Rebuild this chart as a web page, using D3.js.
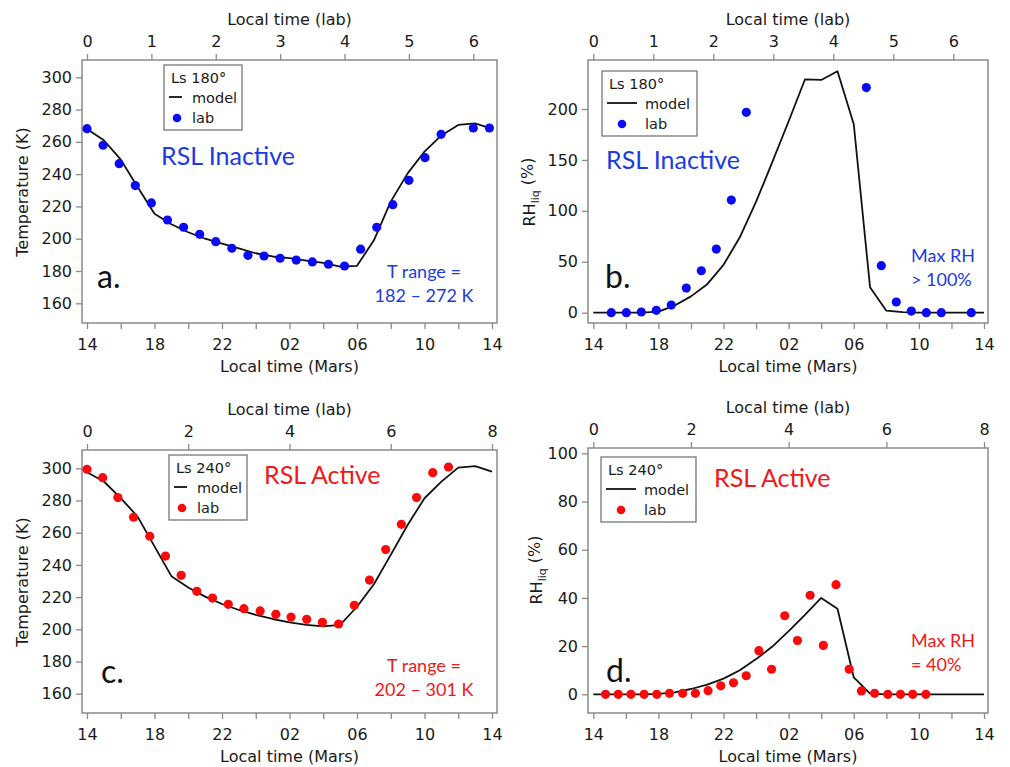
<!DOCTYPE html>
<html>
<head>
<meta charset="utf-8">
<script src="https://cdn.jsdelivr.net/npm/d3@7"></script>
<style>
  body { margin: 0; background: #fff; }
  svg { display: block; }
</style>
</head>
<body>
<div id="chart"></div>
<script>
// Mars local time, hours after 14:00
var marsHours = [0, 1, 2, 3, 4, 5, 6, 7, 8, 9, 10, 11, 12, 13, 14, 15, 16, 17, 18, 19, 20, 21, 22, 23, 24];

// a. Ls 180 temperature (K)
var modelTempA = [268, 261, 249, 232, 215.5, 209, 204, 200, 197, 194, 191, 189, 188, 186.5, 185, 182.7, 183.2, 199, 223, 240.5, 254, 264, 270.5, 271.5, 268];
var labTimeA = [0, 0.25, 0.5, 0.75, 1, 1.25, 1.5, 1.75, 2, 2.25, 2.5, 2.75, 3, 3.25, 3.5, 3.75, 4, 4.25, 4.5, 4.75, 5, 5.25, 5.5, 6, 6.25];
var labTempA = [268.2, 257.9, 246.5, 232.9, 222.2, 211.6, 207.1, 202.7, 198.2, 194.1, 189.7, 189.3, 187.9, 186.8, 185.6, 184.2, 183.1, 193.5, 207.1, 221.1, 236.2, 250.2, 264.7, 268.6, 268.6];

// b. Ls 180 RH liq (%)
var modelRhB = [0, 0, 0, 0, 1, 7, 16, 28, 47, 74, 109, 148, 188, 229, 228.5, 237, 185, 25, 2, 0.5, 0, 0, 0, 0, 0];
var labTimeB = [0.3, 0.55, 0.8, 1.05, 1.3, 1.55, 1.8, 2.05, 2.3, 2.55, 4.55, 4.8, 5.05, 5.3, 5.55, 5.8, 6.3];
var labRhB = [0, 0, 0.7, 2.3, 7.5, 24.2, 41.2, 62.5, 110.6, 196.7, 221, 46.2, 10.5, 1.6, 0, 0, 0];

// c. Ls 240 temperature (K)
var modelTempC = [297.5, 291.8, 281.5, 270, 251.5, 233, 226, 220.3, 215.7, 212, 208.9, 206.4, 204.3, 202.7, 201.8, 202.7, 214, 228, 246.2, 264.8, 281.4, 291.7, 300.4, 301.4, 297.9];
var labTimeC = [0, 0.31, 0.61, 0.92, 1.24, 1.55, 1.86, 2.17, 2.48, 2.79, 3.1, 3.42, 3.73, 4.03, 4.34, 4.65, 4.97, 5.28, 5.58, 5.9, 6.21, 6.51, 6.83, 7.14];
var labTempC = [299.4, 294.2, 281.8, 269.6, 257.8, 245.5, 233.5, 223.6, 219.4, 215.5, 212.8, 211.4, 209.3, 207.6, 206.2, 204.3, 203.3, 214.9, 230.6, 249.5, 265.2, 281.8, 297.3, 300.8];

// d. Ls 240 RH liq (%)
var modelRhD = [0, 0, 0, 0, 0.2, 0.8, 2.2, 4, 6.5, 10, 14.6, 19.8, 26.2, 33, 40, 35.5, 7, 0.3, 0, 0, 0, 0, 0, 0, 0];
var labTimeD = [0.25, 0.51, 0.77, 1.04, 1.3, 1.56, 1.83, 2.09, 2.35, 2.61, 2.87, 3.13, 3.39, 3.65, 3.92, 4.18, 4.44, 4.71, 4.97, 5.24, 5.49, 5.76, 6.03, 6.29, 6.54, 6.81];
var labRhD = [0, 0, 0, 0, 0, 0.4, 0.4, 0.4, 1.5, 3.5, 4.8, 7.7, 18.1, 10.4, 32.6, 22.3, 41.1, 20.3, 45.5, 10.4, 1.4, 0.4, 0, 0, 0, 0];

// tick labels
var marsTicks = [0, 2, 4, 6, 8, 10, 12, 14, 16, 18, 20, 22, 24];
var labTicks180 = [0, 1, 2, 3, 4, 5, 6];
var labTicks240 = [0, 2, 4, 6, 8];
var tempTicks = [160, 180, 200, 220, 240, 260, 280, 300];
var rhTicksB = [0, 50, 100, 150, 200];
var rhTicksD = [0, 20, 40, 60, 80, 100];

var BLUE_PT = "#0a0af5", BLUE_TXT = "#1c3ce0";
var RED_PT = "#fa0a0a", RED_TXT = "#f01818";
var AXIS = "#8a8a8a", INK = "#1a1a1a";
var TICK_FONT = "'DejaVu Sans', sans-serif";
var NOTE_FONT = "Lato, 'Open Sans', sans-serif";

var svg = d3.select("#chart")
  .append("svg")
  .attr("width", 1010)
  .attr("height", 767);

function pad2(h) {
  var v = (14 + h) % 24;
  return v < 10 ? "0" + v : "" + v;
}

function styleAxis(g) {
  g.select(".domain").remove();
  g.selectAll(".tick line").attr("stroke", AXIS).attr("stroke-width", 1.3);
  g.selectAll(".tick text")
    .attr("fill", INK)
    .style("font-family", TICK_FONT)
    .style("font-size", "16px");
}

function drawPanel(p) {
  var g = svg.append("g");

  var x = d3.scaleLinear().domain([0, 24]).range(p.marsRange);
  var xLab = d3.scaleLinear().domain(p.labDomain).range(p.labRange);
  var y = d3.scaleLinear().domain(p.yDomain).range(p.yRange);

  // frame
  g.append("rect")
    .attr("x", p.frame[0])
    .attr("y", p.frame[1])
    .attr("width", p.frame[2] - p.frame[0])
    .attr("height", p.frame[3] - p.frame[1])
    .attr("fill", "none")
    .attr("stroke", AXIS)
    .attr("stroke-width", 1.5);

  // bottom axis (Mars time)
  g.append("g")
    .attr("transform", "translate(0," + p.frame[3] + ")")
    .call(d3.axisBottom(x).tickValues(marsTicks).tickSize(6).tickPadding(10)
      .tickFormat(function(d) { return d % 4 === 0 ? pad2(d) : ""; }))
    .call(styleAxis);

  // top axis (lab time)
  g.append("g")
    .attr("transform", "translate(0," + p.frame[1] + ")")
    .call(d3.axisTop(xLab).tickValues(p.labTicks).tickSize(6).tickPadding(7)
      .tickFormat(d3.format("d")))
    .call(styleAxis);

  // left axis
  g.append("g")
    .attr("transform", "translate(" + p.frame[0] + ",0)")
    .call(d3.axisLeft(y).tickValues(p.yTicks).tickSize(6).tickPadding(4)
      .tickFormat(d3.format("d")))
    .call(styleAxis);

  // axis titles
  var cx = (p.frame[0] + p.frame[2]) / 2;
  g.append("text")
    .attr("x", cx).attr("y", p.frame[1] - 35)
    .attr("text-anchor", "middle")
    .attr("fill", INK)
    .style("font-family", TICK_FONT).style("font-size", "16px")
    .text("Local time (lab)");
  g.append("text")
    .attr("x", cx).attr("y", p.frame[3] + 49)
    .attr("text-anchor", "middle")
    .attr("fill", INK)
    .style("font-family", TICK_FONT).style("font-size", "16px")
    .text("Local time (Mars)");

  var yt = g.append("text")
    .attr("transform", "translate(" + p.yTitle[0] + "," + p.yTitle[1] + ") rotate(-90)")
    .attr("text-anchor", "middle")
    .attr("fill", INK)
    .style("font-family", TICK_FONT).style("font-size", "16px");
  if (p.isRH) {
    yt.append("tspan").text("RH");
    yt.append("tspan").attr("dy", "0.35em").style("font-size", "11px").text("liq");
    yt.append("tspan").attr("dy", "-0.35em").text(" (%)");
  } else {
    yt.text("Temperature (K)");
  }

  // model line
  var line = d3.line()
    .x(function(d) { return x(d[0]); })
    .y(function(d) { return y(d[1]); });
  g.append("path")
    .datum(d3.zip(marsHours, p.model))
    .attr("d", line)
    .attr("fill", "none")
    .attr("stroke", "#111")
    .attr("stroke-width", 1.8)
    .attr("stroke-linejoin", "round");

  // lab points
  g.selectAll(".pt")
    .data(d3.zip(p.labTime, p.labVal))
    .enter()
    .append("circle")
    .attr("class", "pt")
    .attr("cx", function(d) { return xLab(d[0]); })
    .attr("cy", function(d) { return y(d[1]); })
    .attr("r", 4.6)
    .attr("fill", p.ptColor);

  // legend
  var L = p.legend;
  var lg = g.append("g").attr("transform", "translate(" + L.x + "," + L.y + ")");
  lg.append("rect")
    .attr("width", L.w).attr("height", 65)
    .attr("fill", "#fff")
    .attr("stroke", "#777")
    .attr("stroke-width", 1.3);
  lg.append("text").attr("x", 7).attr("y", 18)
    .attr("fill", INK)
    .style("font-family", TICK_FONT).style("font-size", "14.5px")
    .text(p.season);
  lg.append("line")
    .attr("x1", 5).attr("x2", 5 + L.lineLen)
    .attr("y1", 32).attr("y2", 32)
    .attr("stroke", "#111").attr("stroke-width", 1.8);
  lg.append("text").attr("x", L.textX).attr("y", 38)
    .attr("fill", INK)
    .style("font-family", TICK_FONT).style("font-size", "14.5px")
    .text("model");
  lg.append("circle")
    .attr("cx", L.dotX).attr("cy", 53).attr("r", 4.3)
    .attr("fill", p.ptColor);
  lg.append("text").attr("x", L.textX).attr("y", 58)
    .attr("fill", INK)
    .style("font-family", TICK_FONT).style("font-size", "14.5px")
    .text("lab");

  // annotations
  g.append("text")
    .attr("x", p.title[0]).attr("y", p.title[1])
    .attr("fill", p.txtColor)
    .style("font-family", NOTE_FONT).style("font-size", "25px")
    .text(p.titleText);
  g.append("text")
    .attr("x", p.letter[0]).attr("y", p.letter[1])
    .attr("fill", "#111")
    .style("font-family", NOTE_FONT).style("font-size", "32px")
    .text(p.letterText);
  p.note.forEach(function(t, i) {
    g.append("text")
      .attr("x", p.noteAt[0]).attr("y", p.noteAt[1] + i * 24)
      .attr("text-anchor", p.noteAnchor)
      .attr("fill", p.txtColor)
      .style("font-family", NOTE_FONT).style("font-size", "18px")
      .text(t);
  });
}

drawPanel({
  frame: [82, 60, 497, 323],
  marsRange: [87, 492], labDomain: [0, 6], labRange: [87, 473.3], labTicks: labTicks180,
  yDomain: [160, 300], yRange: [303.3, 77.3], yTicks: tempTicks,
  yTitle: [28, 192], isRH: false,
  model: modelTempA, labTime: labTimeA, labVal: labTempA,
  ptColor: BLUE_PT, txtColor: BLUE_TXT, season: "Ls 180°",
  legend: { x: 164, y: 65, w: 78, lineLen: 13, dotX: 13, textX: 28 },
  titleText: "RSL Inactive", title: [161, 165],
  letterText: "a.", letter: [97, 288],
  note: ["T range =", "182 \u2013 272 K"], noteAt: [424, 278], noteAnchor: "middle"
});

drawPanel({
  frame: [588, 60, 988, 323],
  marsRange: [593.3, 984], labDomain: [0, 6], labRange: [593.3, 953.3], labTicks: labTicks180,
  yDomain: [0, 200], yRange: [312.7, 109], yTicks: rhTicksB,
  yTitle: [535, 192], isRH: true,
  model: modelRhB, labTime: labTimeB, labVal: labRhB,
  ptColor: BLUE_PT, txtColor: BLUE_TXT, season: "Ls 180°",
  legend: { x: 602, y: 71, w: 95, lineLen: 30, dotX: 20, textX: 43 },
  titleText: "RSL Inactive", title: [606, 169],
  letterText: "b.", letter: [605, 288],
  note: ["Max RH", "> 100%"], noteAt: [911, 262], noteAnchor: "start"
});

drawPanel({
  frame: [82, 450, 497, 713],
  marsRange: [87, 492], labDomain: [0, 8], labRange: [87, 492], labTicks: labTicks240,
  yDomain: [160, 300], yRange: [693.7, 468.3], yTicks: tempTicks,
  yTitle: [28, 582], isRH: false,
  model: modelTempC, labTime: labTimeC, labVal: labTempC,
  ptColor: RED_PT, txtColor: RED_TXT, season: "Ls 240°",
  legend: { x: 169, y: 455, w: 78, lineLen: 13, dotX: 13, textX: 28 },
  titleText: "RSL Active", title: [264, 484],
  letterText: "c.", letter: [101, 683],
  note: ["T range =", "202 \u2013 301 K"], noteAt: [424, 672], noteAnchor: "middle"
});

drawPanel({
  frame: [588, 448, 988, 713],
  marsRange: [593.3, 984], labDomain: [0, 8], labRange: [593.3, 984], labTicks: labTicks240,
  yDomain: [0, 100], yRange: [694.3, 453.3], yTicks: rhTicksD,
  yTitle: [542, 570], isRH: true,
  model: modelRhD, labTime: labTimeD, labVal: labRhD,
  ptColor: RED_PT, txtColor: RED_TXT, season: "Ls 240°",
  legend: { x: 601, y: 457, w: 95, lineLen: 30, dotX: 20, textX: 43 },
  titleText: "RSL Active", title: [714, 487],
  letterText: "d.", letter: [606, 682],
  note: ["Max RH", "= 40%"], noteAt: [911, 647], noteAnchor: "start"
});
</script>
</body>
</html>
